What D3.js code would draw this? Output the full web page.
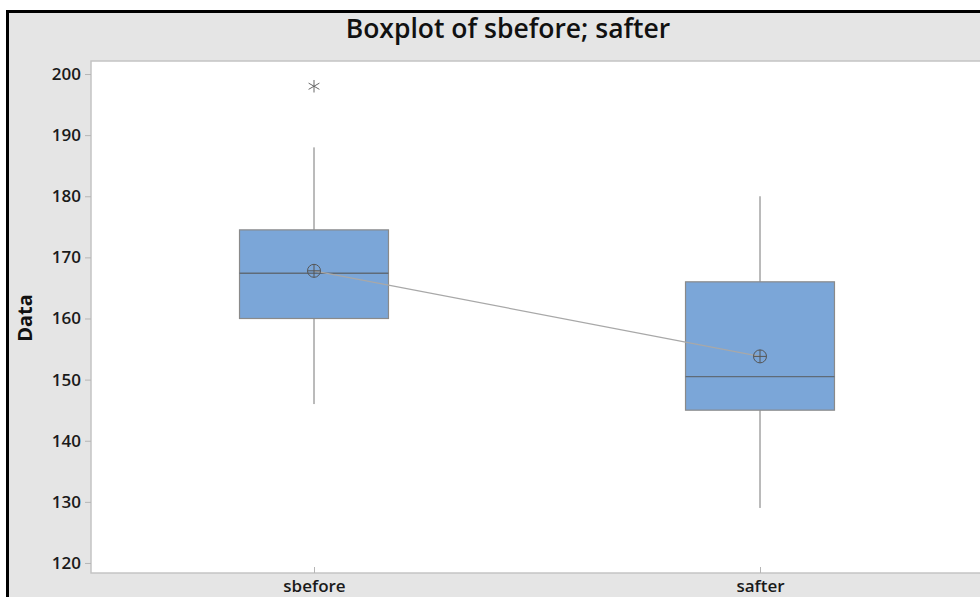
<!DOCTYPE html>
<meta charset="utf-8">
<title>Boxplot of sbefore; safter</title>
<style>
  body { margin: 0; background: #fff; }
  text { font-family: "Open Sans", "Noto Sans", sans-serif; }
  .tick text { fill: #1a1a1a; font-weight: 600; }
</style>
<body>
<svg width="980" height="597"></svg>
<script src="https://d3js.org/d3.v7.min.js"></script>
<script>

// data
var categories = ["sbefore", "safter"];
var q1 = [160, 145];
var medians = [167.4, 150.5];
var q3 = [174.5, 166];
var whiskerLow = [146, 129];
var whiskerHigh = [188, 180];
var means = [167.8, 153.8];
var outliers = [[198], []];
var yTicks = [120, 130, 140, 150, 160, 170, 180, 190, 200];

var svg = d3.select("svg");

// outer frame (grey panel with black edge)
svg.append("rect")
    .attr("x", 7.5).attr("y", 11.5)
    .attr("width", 1000).attr("height", 620)
    .attr("fill", "#e5e5e5")
    .attr("stroke", "#000")
    .attr("stroke-width", 3);

var plot = {left: 91, top: 61, right: 983, bottom: 573};

svg.append("rect")
    .attr("x", plot.left).attr("y", plot.top)
    .attr("width", plot.right - plot.left).attr("height", plot.bottom - plot.top)
    .attr("fill", "#fff")
    .attr("stroke", "#c4c4c4")
    .attr("stroke-width", 1.5);

var x = d3.scalePoint()
    .domain(categories)
    .range([plot.left, plot.right])
    .padding(0.5);

var y = d3.scaleLinear()
    .domain([118.36, 202.13])
    .range([plot.bottom, plot.top]);

// title
svg.append("text")
    .attr("x", 508).attr("y", 38)
    .attr("text-anchor", "middle")
    .attr("font-size", 26.5)
    .attr("font-weight", 600)
    .attr("fill", "#111")
    .text("Boxplot of sbefore; safter");

// axes
var yAxis = svg.append("g")
    .attr("transform", "translate(" + plot.left + ",0)")
    .call(d3.axisLeft(y).tickValues(yTicks).tickSize(6).tickPadding(4));
yAxis.select(".domain").remove();
yAxis.selectAll(".tick line").attr("stroke", "#b5b5b5");
yAxis.selectAll(".tick text").attr("font-size", 17);

var xAxis = svg.append("g")
    .attr("transform", "translate(0," + plot.bottom + ")")
    .call(d3.axisBottom(x).tickSize(-6).tickPadding(7));
xAxis.select(".domain").remove();
xAxis.selectAll(".tick line").attr("stroke", "#b5b5b5");
xAxis.selectAll(".tick text").attr("font-size", 17);

svg.append("text")
    .attr("transform", "translate(32,318) rotate(-90)")
    .attr("text-anchor", "middle")
    .attr("font-size", 20)
    .attr("font-weight", 700)
    .attr("fill", "#111")
    .text("Data");

var boxW = x.step() * 0.334;

var boxes = svg.append("g").selectAll("g")
    .data(categories)
    .enter().append("g");

// whiskers
boxes.append("line")
    .attr("x1", function(d) { return x(d); })
    .attr("x2", function(d) { return x(d); })
    .attr("y1", function(d, i) { return y(whiskerHigh[i]); })
    .attr("y2", function(d, i) { return y(q3[i]); })
    .attr("stroke", "#777");
boxes.append("line")
    .attr("x1", function(d) { return x(d); })
    .attr("x2", function(d) { return x(d); })
    .attr("y1", function(d, i) { return y(q1[i]); })
    .attr("y2", function(d, i) { return y(whiskerLow[i]); })
    .attr("stroke", "#777");

boxes.append("rect")
    .attr("x", function(d) { return x(d) - boxW / 2; })
    .attr("width", boxW)
    .attr("y", function(d, i) { return y(q3[i]); })
    .attr("height", function(d, i) { return y(q1[i]) - y(q3[i]); })
    .attr("fill", "#7ba6d8")
    .attr("stroke", "#8a8a8a")
    .attr("stroke-width", 1.2);

boxes.append("line")
    .attr("x1", function(d) { return x(d) - boxW / 2; })
    .attr("x2", function(d) { return x(d) + boxW / 2; })
    .attr("y1", function(d, i) { return y(medians[i]); })
    .attr("y2", function(d, i) { return y(medians[i]); })
    .attr("stroke", "#5f6b78")
    .attr("stroke-width", 1.3);

// mean connect line
svg.append("path")
    .datum(categories)
    .attr("fill", "none")
    .attr("stroke", "#a8a8a8")
    .attr("stroke-width", 1.3)
    .attr("d", d3.line()
        .x(function(d) { return x(d); })
        .y(function(d, i) { return y(means[i]); }));

// mean symbols (circle with cross)
var meanG = svg.append("g").selectAll("g")
    .data(categories)
    .enter().append("g")
    .attr("transform", function(d, i) { return "translate(" + x(d) + "," + y(means[i]) + ")"; })
    .attr("stroke", "#555")
    .attr("fill", "none");
meanG.append("circle").attr("r", 6.5);
meanG.append("line").attr("x1", -6.5).attr("x2", 6.5);
meanG.append("line").attr("y1", -6.5).attr("y2", 6.5);

// outliers as asterisks
var outPts = [];
categories.forEach(function(c, i) {
  outliers[i].forEach(function(v) { outPts.push({cat: c, v: v}); });
});
svg.append("g").selectAll("path")
    .data(outPts)
    .enter().append("path")
    .attr("transform", function(d) { return "translate(" + x(d.cat) + "," + y(d.v) + ")"; })
    .attr("d", d3.symbol().type(d3.symbolAsterisk).size(110))
    .attr("fill", "none")
    .attr("stroke", "#666")
    .attr("stroke-width", 1);

</script>
</body>
